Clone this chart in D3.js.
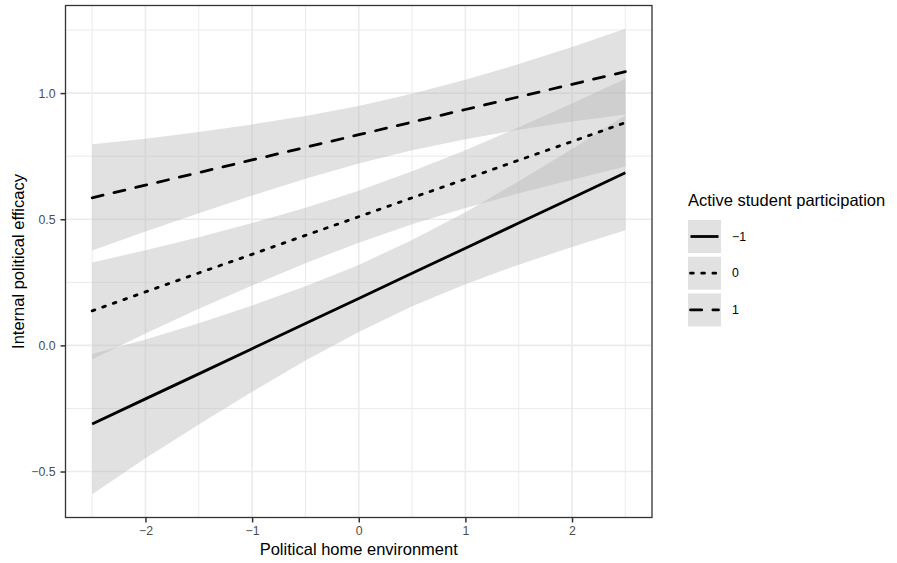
<!DOCTYPE html>
<html>
<head>
<meta charset="utf-8">
<script src="https://cdn.jsdelivr.net/npm/d3@7"></script>
<style>
  body { margin: 0; background: #fff; }
  svg { font-family: "Liberation Sans", Arial, sans-serif; }
</style>
</head>
<body>
<div id="chart"></div>
<script>
// values
const xVals = [-2.5, -2, -1.5, -1, -0.5, 0, 0.5, 1, 1.5, 2, 2.5];

// active participation = -1
const fitM1 = [-0.312, -0.212, -0.113, -0.013, 0.087, 0.186, 0.286, 0.385, 0.485, 0.584, 0.684];
const lowM1 = [-0.590, -0.447, -0.314, -0.184, -0.060, 0.053, 0.155, 0.242, 0.320, 0.390, 0.456];
const uppM1 = [-0.034, 0.023, 0.088, 0.158, 0.234, 0.319, 0.418, 0.528, 0.651, 0.778, 0.912];

// active participation = 0
const fit0 = [0.137, 0.212, 0.287, 0.361, 0.436, 0.510, 0.585, 0.659, 0.734, 0.808, 0.883];
const low0 = [-0.055, 0.047, 0.145, 0.237, 0.326, 0.407, 0.480, 0.545, 0.603, 0.657, 0.709];
const upp0 = [0.329, 0.377, 0.429, 0.485, 0.546, 0.613, 0.690, 0.773, 0.865, 0.959, 1.057];

// active participation = 1
const fitP1 = [0.585, 0.635, 0.685, 0.735, 0.785, 0.835, 0.885, 0.935, 0.985, 1.035, 1.085];
const lowP1 = [0.376, 0.451, 0.524, 0.594, 0.661, 0.721, 0.773, 0.817, 0.855, 0.887, 0.915];
const uppP1 = [0.797, 0.819, 0.846, 0.876, 0.909, 0.949, 0.997, 1.053, 1.115, 1.183, 1.255];

const groupLabels = ["\u22121", "0", "1"];
const xTicks = [-2, -1, 0, 1, 2];
const yTicks = [-0.5, 0, 0.5, 1.0];

const xTitle = "Political home environment";
const yTitle = "Internal political efficacy";
const legendTitle = "Active student participation";

const W = 897, H = 563;
const panel = { left: 65.5, top: 5.5, right: 652, bottom: 517.5 };
const lineW = 2.8;
const ribbonFill = "#b3b3b3";
const ribbonAlpha = 0.4;
const titleSize = "16.5px";
const smallSize = "12.3px";

const groups = [
    { label: groupLabels[0], fit: fitM1, low: lowM1, upp: uppM1, dash: null },
    { label: groupLabels[1], fit: fit0, low: low0, upp: upp0, dash: [lineW, 3 * lineW] },
    { label: groupLabels[2], fit: fitP1, low: lowP1, upp: uppP1, dash: [4 * lineW, 4 * lineW] }
];

function rows(g) {
    return xVals.map((x, i) => ({ x: x, fit: g.fit[i], low: g.low[i], upp: g.upp[i] }));
}

// ggplot-style 5% expansion
function expand(ext) {
    const d = (ext[1] - ext[0]) * 0.05;
    return [ext[0] - d, ext[1] + d];
}

const allY = d3.merge(groups.map(g => g.low.concat(g.upp)));
const x = d3.scaleLinear().domain(expand(d3.extent(xVals))).range([panel.left, panel.right]);
const y = d3.scaleLinear().domain(expand(d3.extent(allY))).range([panel.bottom, panel.top]);

const svg = d3.select("#chart").append("svg")
    .attr("width", W)
    .attr("height", H);

// grid
const grid = svg.append("g");
const xMinor = d3.range(-2.5, 2.51, 1);
const yMinor = [-0.25, 0.25, 0.75, 1.25].filter(v => y(v) > panel.top && y(v) < panel.bottom);
grid.selectAll(".xminor").data(xMinor).enter().append("line")
    .attr("x1", d => x(d)).attr("x2", d => x(d))
    .attr("y1", panel.top).attr("y2", panel.bottom)
    .attr("stroke", "#ebebeb").attr("stroke-width", 1);
grid.selectAll(".yminor").data(yMinor).enter().append("line")
    .attr("y1", d => y(d)).attr("y2", d => y(d))
    .attr("x1", panel.left).attr("x2", panel.right)
    .attr("stroke", "#ebebeb").attr("stroke-width", 1);
grid.selectAll(".xmajor").data(xTicks).enter().append("line")
    .attr("x1", d => x(d)).attr("x2", d => x(d))
    .attr("y1", panel.top).attr("y2", panel.bottom)
    .attr("stroke", "#ebebeb").attr("stroke-width", 1.6);
grid.selectAll(".ymajor").data(yTicks).enter().append("line")
    .attr("y1", d => y(d)).attr("y2", d => y(d))
    .attr("x1", panel.left).attr("x2", panel.right)
    .attr("stroke", "#ebebeb").attr("stroke-width", 1.6);

// ribbons
const area = d3.area()
    .x(d => x(d.x))
    .y0(d => y(d.low))
    .y1(d => y(d.upp));
svg.append("g").selectAll("path").data(groups).enter().append("path")
    .attr("d", g => area(rows(g)))
    .attr("fill", ribbonFill)
    .attr("fill-opacity", ribbonAlpha);

// fitted lines
const line = d3.line()
    .x(d => x(d.x))
    .y(d => y(d.fit));
svg.append("g").selectAll("path").data(groups).enter().append("path")
    .attr("d", g => line(rows(g)))
    .attr("fill", "none")
    .attr("stroke", "#000")
    .attr("stroke-width", lineW)
    .attr("stroke-linecap", g => g.dash ? "round" : "butt")
    .attr("stroke-dasharray", g => g.dash ? g.dash.join(",") : null);

// panel border
svg.append("rect")
    .attr("x", panel.left).attr("y", panel.top)
    .attr("width", panel.right - panel.left)
    .attr("height", panel.bottom - panel.top)
    .attr("fill", "none")
    .attr("stroke", "#333333")
    .attr("stroke-width", 1.3);

// axes
const xAxis = svg.append("g")
    .attr("transform", "translate(0," + panel.bottom + ")")
    .call(d3.axisBottom(x).tickValues(xTicks).tickSize(5).tickPadding(4)
        .tickFormat(d => d3.format("d")(d).replace("-", "\u2212")));
const yAxis = svg.append("g")
    .attr("transform", "translate(" + panel.left + ",0)")
    .call(d3.axisLeft(y).tickValues(yTicks).tickSize(5).tickPadding(5)
        .tickFormat(d => d3.format(".1f")(d).replace("-", "\u2212")));
[xAxis, yAxis].forEach(a => {
    a.select(".domain").remove();
    a.selectAll(".tick line").attr("stroke", "#333333").attr("stroke-width", 1.5);
    a.selectAll(".tick text")
        .attr("fill", "#4d4d4d")
        .style("font-size", smallSize)
        .style("font-family", "'Liberation Sans', Arial, sans-serif");
});

// axis titles
svg.append("text")
    .attr("x", (panel.left + panel.right) / 2)
    .attr("y", 555)
    .attr("text-anchor", "middle")
    .style("font-size", titleSize)
    .text(xTitle);
svg.append("text")
    .attr("transform", "translate(24," + (panel.top + panel.bottom) / 2 + ") rotate(-90)")
    .attr("text-anchor", "middle")
    .style("font-size", titleSize)
    .text(yTitle);

// legend
const legend = svg.append("g").attr("transform", "translate(688,0)");
legend.append("text")
    .attr("x", 0)
    .attr("y", 206)
    .style("font-size", titleSize)
    .text(legendTitle);
const keySize = 33;
const keyStep = 36.7;
const keys = legend.selectAll(".key").data(groups).enter().append("g")
    .attr("transform", (d, i) => "translate(0," + (220 + i * keyStep) + ")");
keys.append("rect")
    .attr("width", keySize).attr("height", keySize)
    .attr("fill", ribbonFill).attr("fill-opacity", ribbonAlpha);
keys.append("line")
    .attr("x1", 2.5).attr("x2", keySize - 2.5)
    .attr("y1", keySize / 2).attr("y2", keySize / 2)
    .attr("stroke", "#000")
    .attr("stroke-width", lineW)
    .attr("stroke-linecap", g => g.dash ? "round" : "butt")
    .attr("stroke-dasharray", g => g.dash ? g.dash.join(",") : null);
keys.append("text")
    .attr("x", 44)
    .attr("y", keySize / 2)
    .attr("dy", "0.35em")
    .style("font-size", smallSize)
    .text(g => g.label);
</script>
</body>
</html>
